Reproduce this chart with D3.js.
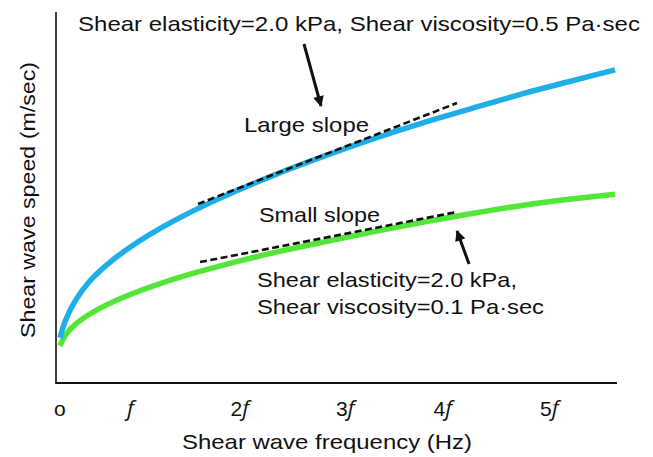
<!DOCTYPE html>
<html>
<head>
<meta charset="utf-8">
<script src="https://cdn.jsdelivr.net/npm/d3@7"></script>
<style>
  html, body { margin: 0; padding: 0; background: #fff; }
  svg { display: block; }
  text { font-family: "Liberation Sans", Arial, Helvetica, sans-serif; fill: #111; }
</style>
</head>
<body>
<svg id="chart" width="653" height="457"></svg>
<script>
// ---- data (frequency in units of f, speed in arbitrary units) ----
const freq       = [0.041, 0.10, 0.20, 0.35, 0.55, 0.80, 1.10, 1.45, 1.85, 2.30, 2.80, 3.30, 3.80, 4.30, 4.80, 5.30, 5.78];
const blueSpeed  = [1.22, 1.70, 2.22, 2.75, 3.24, 3.72, 4.20, 4.68, 5.16, 5.65, 6.14, 6.60, 7.02, 7.40, 7.78, 8.12, 8.44];
const greenSpeed = [1.00, 1.30, 1.58, 1.86, 2.14, 2.42, 2.70, 2.98, 3.26, 3.54, 3.82, 4.09, 4.34, 4.57, 4.78, 4.95, 5.09];
const tickValues = [0.04, 0.77, 1.90, 2.99, 4.00, 5.10];
const tickNums   = ["", "", "2", "3", "4", "5"];
const largeSlope = [[1.468, 4.825], [4.146, 7.547]];
const smallSlope = [[1.489, 3.261], [4.146, 4.609]];
const arrowTop    = [[2.564, 9.137], [2.740, 7.466]];
const arrowBottom = [[4.270, 3.208], [4.146, 4.097]];

const svg = d3.select("#chart");
const x = d3.scaleLinear().domain([0, 5.8]).range([56, 617]);
const y = d3.scaleLinear().domain([0, 10]).range([383, 12]);

// axes (lines only)
svg.append("line").attr("x1", x(0)).attr("x2", x(0)).attr("y1", y(10)).attr("y2", y(0))
  .attr("stroke", "#111").attr("stroke-width", 1.6);
svg.append("line").attr("x1", x(0) - 0.8).attr("x2", x(5.8)).attr("y1", y(0)).attr("y2", y(0))
  .attr("stroke", "#111").attr("stroke-width", 1.8);

// tick labels
const tl = svg.append("g");
tickValues.forEach((v, i) => {
  const t = tl.append("text").attr("x", x(v)).attr("y", 416).attr("text-anchor", "middle")
    .style("font-size", "21px");
  if (i === 0) {
    t.text("o");
  } else {
    if (tickNums[i]) t.append("tspan").text(tickNums[i]);
    t.append("tspan").style("font-family", "'Open Sans', 'DejaVu Sans', sans-serif")
      .style("font-style", "italic").style("font-size", "22px").text("f");
  }
});

// curves
const line = d3.line().x(d => x(d[0])).y(d => y(d[1])).curve(d3.curveCatmullRom.alpha(0.5));
svg.append("path").datum(freq.map((f, i) => [f, greenSpeed[i]]))
  .attr("d", line).attr("fill", "none").attr("stroke", "#52e639").attr("stroke-width", 5.5);
svg.append("path").datum(freq.map((f, i) => [f, blueSpeed[i]]))
  .attr("d", line).attr("fill", "none").attr("stroke", "#1eaee8").attr("stroke-width", 5.5);

// dashed tangents
const straight = d3.line().x(d => x(d[0])).y(d => y(d[1]));
[largeSlope, smallSlope].forEach(seg => {
  svg.append("path").attr("d", straight(seg)).attr("fill", "none")
    .attr("stroke", "#111").attr("stroke-width", 2.6).attr("stroke-dasharray", "7,3.5");
});

// arrows
svg.append("defs").append("marker").attr("id", "ah").attr("viewBox", "0 0 10 10")
  .attr("refX", 9).attr("refY", 5).attr("markerWidth", 4.2).attr("markerHeight", 3.6)
  .attr("markerUnits", "strokeWidth").attr("orient", "auto")
  .append("path").attr("d", "M0,0 L10,5 L0,10 Z").attr("fill", "#111");
[arrowTop, arrowBottom].forEach(seg => {
  svg.append("path").attr("d", straight(seg)).attr("stroke", "#111")
    .attr("stroke-width", 3).attr("fill", "none").attr("marker-end", "url(#ah)");
});

// texts
function label(txt, x0, yb, w, size) {
  svg.append("text").attr("x", x0).attr("y", yb).style("font-size", size + "px")
    .attr("textLength", w).attr("lengthAdjust", "spacingAndGlyphs").text(txt);
}
label("Shear elasticity=2.0 kPa, Shear viscosity=0.5 Pa\u00B7sec", 78, 31, 562, 21);
label("Large slope", 244, 132, 125, 21);
label("Small slope", 259, 222, 121, 21);
label("Shear elasticity=2.0 kPa,", 257, 287, 260, 21);
label("Shear viscosity=0.1 Pa\u00B7sec", 257, 314, 287, 21);
label("Shear wave frequency (Hz)", 182, 449, 290, 21);

svg.append("text").attr("transform", "translate(35,200) rotate(-90)")
  .attr("text-anchor", "middle").style("font-size", "21px")
  .attr("textLength", 276).attr("lengthAdjust", "spacingAndGlyphs")
  .text("Shear wave speed (m/sec)");
</script>
</body>
</html>
